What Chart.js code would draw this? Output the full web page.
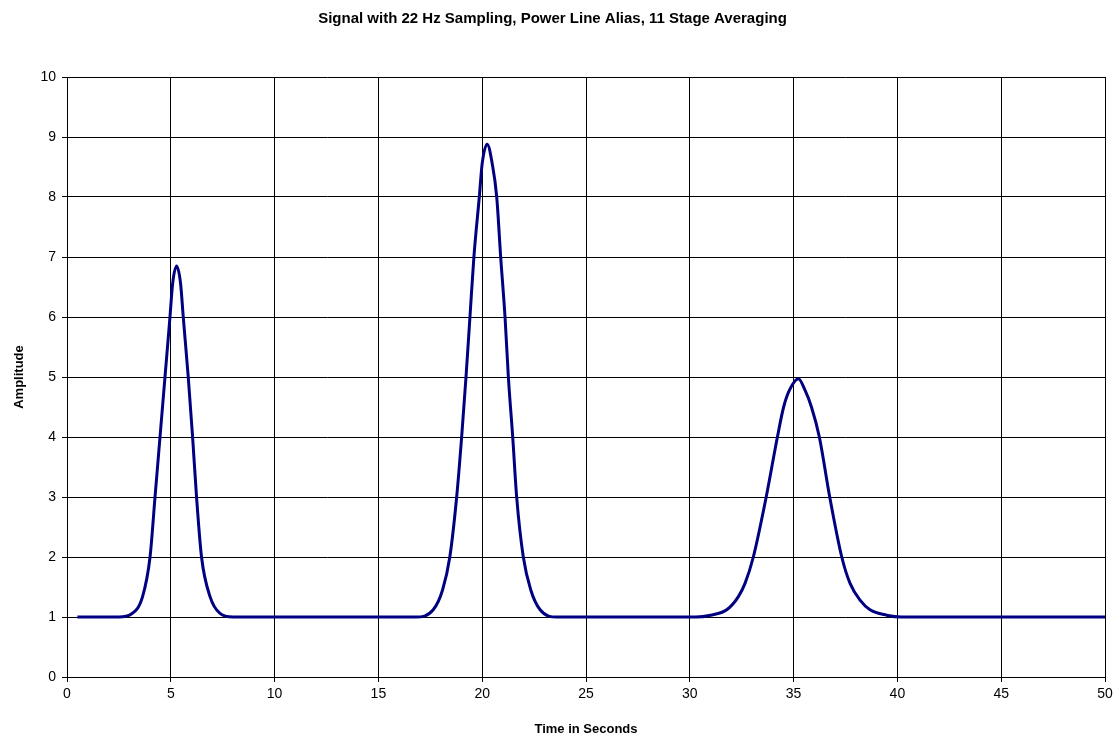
<!DOCTYPE html>
<html>
<head>
<meta charset="utf-8">
<title>Signal with 22 Hz Sampling</title>
<script src="https://cdn.jsdelivr.net/npm/chart.js@4/dist/chart.umd.min.js"></script>
<style>
    html, body { margin: 0; padding: 0; background: #fff; }
    #wrap { width: 1119px; height: 741px; position: relative; }
</style>
</head>
<body>
<div id="wrap"><canvas id="signalChart"></canvas></div>
<script>
const chartTitle = "Signal with 22 Hz Sampling, Power Line Alias, 11 Stage Averaging";
const xAxisTitle = "Time in Seconds";
const yAxisTitle = "Amplitude";

// seconds
const timeValues = [
    0.5, 2.5, 3.1, 3.64, 4.0, 4.24, 4.48, 4.72, 4.96, 5.09, 5.28, 5.47, 5.60, 5.84, 6.05, 6.24, 6.48, 6.89, 7.37, 8.0,
    16.8, 17.64, 18.09, 18.44, 18.77, 19.01, 19.22, 19.41, 19.60, 19.86, 20.0, 20.24, 20.48, 20.70, 20.89, 21.10, 21.26, 21.47, 21.66, 21.98, 22.34, 22.79, 23.6,
    30.3, 31.0, 31.78, 32.34, 32.66, 33.06, 33.68, 34.22, 34.52, 34.80, 35.23, 35.55, 35.86, 36.24, 36.74, 37.32, 37.72, 38.20, 38.68, 39.48, 40.2,
    50.0
];
const amplitudeValues = [
    1, 1, 1.05, 1.34, 2, 3, 4, 5, 6, 6.56, 6.85, 6.56, 6, 5, 4, 3, 2, 1.34, 1.06, 1,
    1, 1.12, 1.45, 2, 3, 4, 5, 6, 7, 8, 8.56, 8.88, 8.56, 8, 7, 6, 5, 4, 3, 2, 1.45, 1.12, 1,
    1, 1.03, 1.12, 1.34, 1.56, 2, 3, 4, 4.5, 4.78, 4.97, 4.78, 4.5, 4, 3, 2, 1.56, 1.28, 1.12, 1.03, 1,
    1
];

const xMin = 0, xMax = 50, xStep = 5;
const yMin = 0, yMax = 10, yStep = 1;

const points = timeValues.map((t, i) => ({ x: t, y: amplitudeValues[i] }));

const tickFont = { family: "Arial, 'Liberation Sans', sans-serif", size: 14 };
const boldFont = { family: "Arial, 'Liberation Sans', sans-serif", size: 13, weight: "bold" };

new Chart(document.getElementById("signalChart"), {
    type: "line",
    data: {
        datasets: [{
            label: "Signal",
            data: points,
            borderColor: "#000080",
            backgroundColor: "#000080",
            borderWidth: 3,
            pointRadius: 0,
            cubicInterpolationMode: "monotone",
            fill: false
        }]
    },
    options: {
        responsive: true,
        maintainAspectRatio: false,
        animation: false,
        layout: { padding: { right: 14, left: 0, bottom: 0, top: 0 } },
        plugins: {
            legend: { display: false },
            tooltip: { enabled: false },
            title: {
                display: true,
                text: chartTitle,
                color: "#000",
                font: { family: "Arial, 'Liberation Sans', sans-serif", size: 15, weight: "bold" },
                padding: { top: 10, bottom: 49 }
            }
        },
        scales: {
            x: {
                type: "linear",
                min: xMin,
                max: xMax,
                afterFit: (scale) => { scale.height = 64; },
                ticks: { stepSize: xStep, color: "#000", font: tickFont, padding: 4, maxRotation: 0 },
                grid: { color: "#000", lineWidth: 1, tickLength: 5 },
                border: { color: "#000", width: 1 },
                title: { display: true, text: xAxisTitle, color: "#000", font: boldFont, padding: { top: 9 } }
            },
            y: {
                min: yMin,
                max: yMax,
                afterFit: (scale) => { scale.width = 67; },
                ticks: { stepSize: yStep, color: "#000", font: tickFont, padding: 6 },
                grid: { color: "#000", lineWidth: 1, tickLength: 5 },
                border: { color: "#000", width: 1 },
                title: { display: true, text: yAxisTitle, color: "#000", font: boldFont, padding: { top: 12, bottom: 0 } }
            }
        }
    }
});
</script>
</body>
</html>
